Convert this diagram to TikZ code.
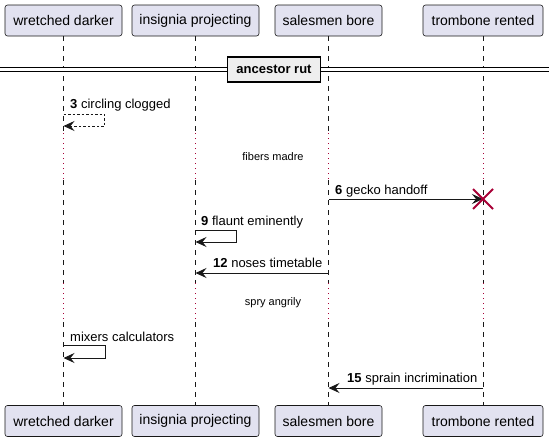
\documentclass[tikz,border=0pt]{standalone}
\usepackage{fontspec}
\setmainfont{Liberation Sans}
\usepackage{xcolor}
\usepackage{tikz}
\usetikzlibrary{calc,arrows.meta}
\definecolor{ink}{HTML}{181818}
\definecolor{boxfill}{HTML}{E2E2F0}
\definecolor{divfill}{HTML}{EEEEEE}
\definecolor{crimson}{HTML}{A80036}
\tikzset{
  part/.style={draw=ink, fill=boxfill, rounded corners=2.5pt, line width=0.6pt,
    minimum height=31pt, inner sep=0pt, font=\fontsize{14}{16}\selectfont},
  lifeline/.style={draw=ink, line width=0.5pt, dash pattern=on 5pt off 5pt},
  delayline/.style={draw=crimson, line width=0.8pt, dash pattern=on 1pt off 4pt},
  divider/.style={draw=black, fill=divfill, line width=1.8pt, minimum width=93pt,
    minimum height=25pt, inner sep=0pt, font=\fontsize{13}{15}\selectfont\bfseries},
  divline/.style={draw=black, line width=1pt, double=white, double distance=2.5pt},
  msg/.style={draw=ink, line width=1pt, -{Stealth[length=11pt,width=10pt,inset=4pt]}},
  msgdash/.style={msg, dash pattern=on 2.5pt off 2pt},
  mlbl/.style={anchor=base west, inner sep=0pt, text=black, font=\fontsize{13}{15}\selectfont},
  dlbl/.style={inner sep=0pt, text=black, font=\fontsize{11}{13}\selectfont},
  destroy/.style={draw=crimson, line width=1.8pt}
}

\begin{document}
\begin{tikzpicture}[x=1pt, y=-1pt]
  \useasboundingbox (0,0) rectangle (553,442);

  % participants, top and bottom
  \node[part, minimum width=117pt] (wdT) at (63.5,20.5) {wretched darker};
  \node[part, minimum width=127pt] (ipT) at (195.5,20.5) {insignia projecting};
  \node[part, minimum width=107pt] (sbT) at (328.5,20.5) {salesmen bore};
  \node[part, minimum width=120pt] (trT) at (483,20.5) {trombone rented};
  \node[part, minimum width=117pt] (wdB) at (63.5,421) {wretched darker};
  \node[part, minimum width=127pt] (ipB) at (195.5,421) {insignia projecting};
  \node[part, minimum width=107pt] (sbB) at (328.5,421) {salesmen bore};
  \node[part, minimum width=120pt] (trB) at (483,421) {trombone rented};

  % lifelines, dotted where the delays are
  \foreach \p in {wd,ip,sb,tr}{
    \draw[lifeline] (\p T.south) -- (\p T.south |- 0,133);
    \draw[delayline] (\p T.south |- 0,133) -- (\p T.south |- 0,180);
    \draw[lifeline] (\p T.south |- 0,180) -- (\p T.south |- 0,283);
    \draw[delayline] (\p T.south |- 0,283) -- (\p T.south |- 0,322);
    \draw[lifeline] (\p T.south |- 0,322) -- (\p B.north);
  }

  % divider
  \node[divider] (div) at (274,69.5) {ancestor rut};
  \coordinate (divL) at (0,69.5);
  \coordinate (divR) at (549,69.5);
  \draw[divline] (divL) -- (div.west);
  \draw[divline] (div.east) -- (divR);

  % 3
  \coordinate (m3a) at (wdT.south |- 0,114);
  \coordinate (m3b) at (wdT.south |- 0,126);
  \draw[msgdash] (m3a) -- ++(41,0) -- ++(0,12) -- (m3b);
  \node[mlbl] (l3) at (70,108.5) {\textbf{3} circling clogged};

  \node[dlbl] (d1) at (273,157) {fibers madre};

  % 6
  \coordinate (m6a) at (sbT.south |- 0,199);
  \coordinate (m6b) at (trT.south |- 0,199);
  \draw[msg] (m6a) -- (m6b);
  \draw[destroy] ($(m6b)+(-10,-10)$) -- ($(m6b)+(10,10)$);
  \draw[destroy] ($(m6b)+(-10,10)$) -- ($(m6b)+(10,-10)$);
  \node[mlbl] (l6) at (335,194.5) {\textbf{6} gecko handoff};

  % 9
  \coordinate (m9a) at (ipT.south |- 0,230);
  \coordinate (m9b) at (ipT.south |- 0,242);
  \draw[msg] (m9a) -- ++(41,0) -- ++(0,12) -- (m9b);
  \node[mlbl] (l9) at (201,225) {\textbf{9} flaunt eminently};

  % 12
  \coordinate (m12a) at (sbT.south |- 0,273);
  \coordinate (m12b) at (ipT.south |- 0,273);
  \draw[msg] (m12a) -- (m12b);
  \node[mlbl] (l12) at (213,267.5) {\textbf{12} noses timetable};

  \node[dlbl] (d2) at (273,303) {spry angrily};

  % unnumbered
  \coordinate (mxa) at (wdT.south |- 0,345);
  \coordinate (mxb) at (wdT.south |- 0,358);
  \draw[msg] (mxa) -- ++(42,0) -- ++(0,13) -- (mxb);
  \node[mlbl] (lx) at (70,341.5) {mixers calculators};

  % 15
  \coordinate (m15a) at (trT.south |- 0,388);
  \coordinate (m15b) at (sbT.south |- 0,388);
  \draw[msg] (m15a) -- (m15b);
  \node[mlbl] (l15) at (347,382.5) {\textbf{15} sprain incrimination};
\end{tikzpicture}
\end{document}
